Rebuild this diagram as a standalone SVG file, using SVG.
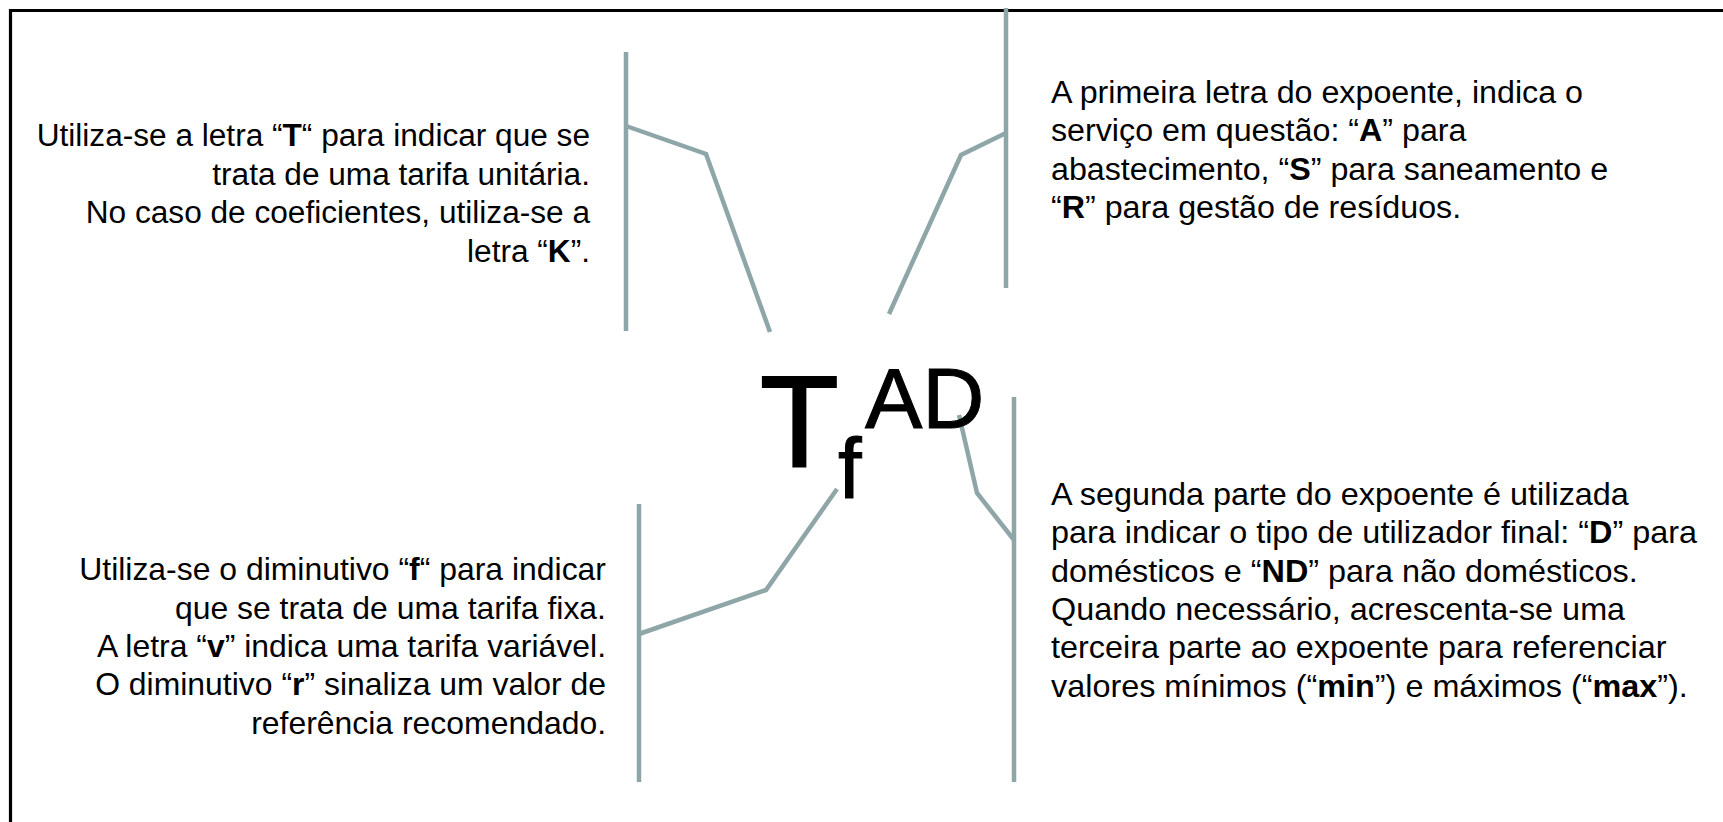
<svg xmlns="http://www.w3.org/2000/svg" width="1723" height="822" viewBox="0 0 1723 822">
<style>
.t{font-family:"Liberation Sans",Arial,sans-serif;font-size:31px;fill:#000}
.e{text-anchor:end}
.b{font-weight:bold}
.c{fill:none;stroke:#8FA6A8;stroke-width:4.5}
.g{font-family:"Liberation Sans",Arial,sans-serif;fill:#000}
</style>
<rect x="0" y="0" width="1723" height="822" fill="#fff"/>
<path d="M10.5,822 V10.5 H1723" fill="none" stroke="#000" stroke-width="3.2"/>
<g id="connectors">
<line class="c" x1="626" y1="52" x2="626" y2="331"/>
<polyline class="c" points="626,126 706,154 770,332"/>
<line class="c" x1="1006" y1="8" x2="1006" y2="288"/>
<polyline class="c" points="1006,133 961,155 889,314"/>
<line class="c" x1="639" y1="504" x2="639" y2="782"/>
<polyline class="c" points="639,634 766,590 837,489"/>
<line class="c" x1="1014" y1="397" x2="1014" y2="782"/>
<polyline class="c" points="1014,540 977,493 959,415"/>
</g>
<g id="symbol">
<text class="g" x="760" y="467" font-size="129" stroke="#000" stroke-width="2">T</text>
<text class="g" x="838" y="498" font-size="85" stroke="#000" stroke-width="1">f</text>
<text class="g" x="865" y="428" font-size="86" stroke="#000" stroke-width="1">AD</text>
</g>
<g id="note-T" transform="translate(590,0) scale(1.02,1) translate(-590,0)">
<text class="t e" x="590" y="146.5">Utiliza-se a letra “<tspan class="b">T</tspan>“ para indicar que se</text>
<text class="t e" x="590" y="185">trata de uma tarifa unitária.</text>
<text class="t e" x="590" y="223.5">No caso de coeficientes, utiliza-se a</text>
<text class="t e" x="590" y="262">letra “<tspan class="b">K</tspan>”.</text>
</g>
<g id="note-service" transform="translate(1051,0) scale(1.04,1) translate(-1051,0)">
<text class="t" x="1051" y="103">A primeira letra do expoente, indica o</text>
<text class="t" x="1051" y="141.5">serviço em questão: “<tspan class="b">A</tspan>” para</text>
<text class="t" x="1051" y="180">abastecimento, “<tspan class="b">S</tspan>” para saneamento e</text>
<text class="t" x="1051" y="218">“<tspan class="b">R</tspan>” para gestão de resíduos.</text>
</g>
<g id="note-f" transform="translate(606,0) scale(1.03,1) translate(-606,0)">
<text class="t e" x="606" y="580">Utiliza-se o diminutivo “<tspan class="b">f</tspan>“ para indicar</text>
<text class="t e" x="606" y="619">que se trata de uma tarifa fixa.</text>
<text class="t e" x="606" y="657">A letra “<tspan class="b">v</tspan>” indica uma tarifa variável.</text>
<text class="t e" x="606" y="695">O diminutivo “<tspan class="b">r</tspan>” sinaliza um valor de</text>
<text class="t e" x="606" y="734">referência recomendado.</text>
</g>
<g id="note-user" transform="translate(1051,0) scale(1.045,1) translate(-1051,0)">
<text class="t" x="1051" y="505">A segunda parte do expoente é utilizada</text>
<text class="t" x="1051" y="543">para indicar o tipo de utilizador final: “<tspan class="b">D</tspan>” para</text>
<text class="t" x="1051" y="582">domésticos e “<tspan class="b">ND</tspan>” para não domésticos.</text>
<text class="t" x="1051" y="620">Quando necessário, acrescenta-se uma</text>
<text class="t" x="1051" y="658">terceira parte ao expoente para referenciar</text>
<text class="t" x="1051" y="697">valores mínimos (“<tspan class="b">min</tspan>”) e máximos (“<tspan class="b">max</tspan>”).</text>
</g>
</svg>
